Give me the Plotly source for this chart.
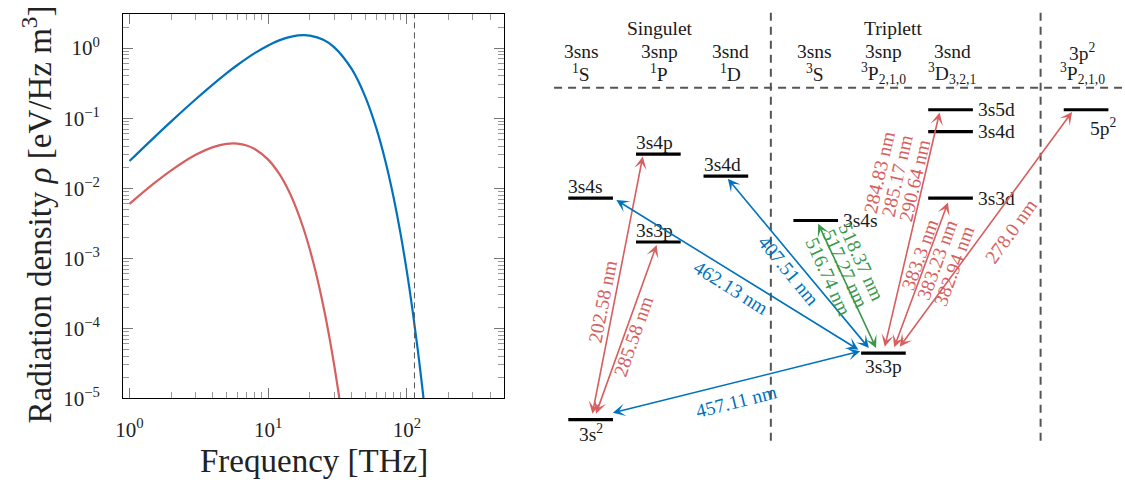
import math
import plotly.graph_objects as go

FONT = "Liberation Serif"
BLUE = "#0072bd"
RED = "#d65f5f"
GREEN = "#3a984a"
GREY = "#555555"
W, H = 1125, 494

# ---------------- spectral radiation density ----------------
freq_warm = [1, 1.5, 2, 3, 4, 5, 6, 8, 10, 12, 15, 18, 20, 25, 30, 40, 50, 60,
             70, 80, 90, 100, 110, 120, 130, 135]
rho_warm = [0.0244, 0.0528, 0.0901, 0.186, 0.304, 0.436, 0.574, 0.848, 1.093,
            1.289, 1.474, 1.531, 1.509, 1.314, 1.026, 0.504, 0.205, 0.0738,
            0.0245, 0.00763, 0.00227, 0.000649, 0.000180, 0.0000488,
            0.0000130, 0.0000066]

freq_cold = [1, 1.5, 2, 3, 4, 5, 6, 7, 8, 10, 12, 14, 16, 18, 20, 22, 24, 26,
             28, 30, 32, 34]
rho_cold = [0.00598, 0.0117, 0.0180, 0.0300, 0.0386, 0.0429, 0.0433, 0.0408,
            0.0363, 0.0256, 0.0161, 0.00933, 0.00508, 0.00264, 0.00132,
            0.000644, 0.000305, 0.000142, 0.0000646, 0.0000290, 0.0000129,
            0.0000057]

marker_freq = [113.5]

x_tick_vals = [1, 10, 100]
x_tick_text = ["10<sup>0</sup>", "10<sup>1</sup>", "10<sup>2</sup>"]
y_tick_vals = [1e-5, 1e-4, 1e-3, 1e-2, 1e-1, 1]
y_tick_text = ["10<sup>\u22125</sup>", "10<sup>\u22124</sup>", "10<sup>\u22123</sup>",
               "10<sup>\u22122</sup>", "10<sup>\u22121</sup>", "10<sup>0</sup>"]

# ---------------- term scheme ----------------
group_names = ["Singulet", "Triplett"]
column_top = ["3sns", "3snp", "3snd", "3sns", "3snp", "3snd", "3p<sup>2</sup>"]
column_term = ["<sup>1</sup>S", "<sup>1</sup>P", "<sup>1</sup>D", "<sup>3</sup>S",
               "<sup>3</sup>P<sub>2,1,0</sub>", "<sup>3</sup>D<sub>3,2,1</sub>",
               "<sup>3</sup>P<sub>2,1,0</sub>"]

level_keys = ["3s2", "3s4s_1", "3s3p_1", "3s4p_1", "3s4d_1", "3s4s_3", "3s3p_3",
              "3s3d_3", "3s4d_3", "3s5d_3", "5p2"]
level_labels = ["3s<sup>2</sup>", "3s4s", "3s3p", "3s4p", "3s4d", "3s4s", "3s3p",
                "3s3d", "3s4d", "3s5d", "5p<sup>2</sup>"]
level_column = [0, 0, 1, 1, 2, 3, 4, 5, 5, 5, 6]
level_depth = [430, 203, 248, 158, 180.5, 226, 362, 203, 135, 112.5, 112.5]

trans_lower = ["3s2", "3s2", "3s2", "3s3p_3", "3s3p_3", "3s3p_3", "3s3p_3",
               "3s3p_3", "3s3p_3"]
trans_upper = ["3s4p_1", "3s3p_1", "3s3p_3", "3s4s_1", "3s4d_1", "3s4s_3",
               "3s5d_3", "3s3d_3", "5p2"]
trans_labels = [["202.58 nm"], ["285.58 nm"], ["457.11 nm"], ["462.13 nm"],
                ["407.51 nm"], ["518.37 nm", "517.27 nm", "516.74 nm"],
                ["284.83 nm", "285.17 nm", "290.64 nm"],
                ["383.3 nm", "383.23 nm", "382.94 nm"], ["278.0 nm"]]
trans_color = [RED, RED, BLUE, BLUE, BLUE, GREEN, RED, RED, RED]

# drawing layout of the scheme (diagram units = pixels)
column_x = [586.8, 655, 723, 813.5, 881.7, 949.3, 1085.8]
header_x = [577.5, 656, 728, 812.5, 881.7, 951, 1082]
group_x = [657, 891]
label_side = ["below", "above", "above", "above", "above", "right", "below",
              "right", "right", "right", "belowright"]
arrow_x_lo = [588.3, 591.7, 607.7, 858.0, 868.3, 875.0, 882.7, 892.0, 897.0]
arrow_x_up = [639.3, 653.3, 858.3, 612.7, 725.0, 816.0, 938.3, 946.7, 1071.7]
arrow_gap_lo = [-4.5, -4.5, -6.5, -2.7, -3.7, -3.7, -5.0, -4.5, -5.0]
arrow_gap_up = [2.5, 3.0, -2.0, 2.0, 2.8, 3.3, 2.7, 4.5, 2.2]
label_center = [(599, 309), (630, 345), (734, 412), (727.7, 295), (786, 277),
                (842.8, 275.5), (895.5, 181), (935.7, 267), (1010, 237)]
LINE_GAP = 18.3
HALF_LEVEL = 22.5
TXT_SIZE = 19.5

fig = go.Figure()

fig.add_trace(go.Scatter(x=freq_warm, y=rho_warm, mode="lines", line_shape="spline",
                         line=dict(color=BLUE, width=2.2), xaxis="x", yaxis="y",
                         hoverinfo="skip", showlegend=False))
fig.add_trace(go.Scatter(x=freq_cold, y=rho_cold, mode="lines", line_shape="spline",
                         line=dict(color=RED, width=2.2), xaxis="x", yaxis="y",
                         hoverinfo="skip", showlegend=False))

for f in marker_freq:
    fig.add_shape(type="line", xref="x", yref="y domain", x0=f, x1=f, y0=0, y1=1,
                  line=dict(color=GREY, width=1, dash="6px,4px"))

# energy levels
lx, ly = [], []
for col, d in zip(level_column, level_depth):
    cx = column_x[col]
    lx += [cx - HALF_LEVEL, cx + HALF_LEVEL, None]
    ly += [d, d, None]
fig.add_trace(go.Scatter(x=lx, y=ly, mode="lines", line=dict(color="black", width=3.2),
                         xaxis="x2", yaxis="y2", hoverinfo="skip", showlegend=False))

annotations = []
txt = dict(family=FONT, size=TXT_SIZE, color="#1a1a1a")

for key, lab, col, d, side in zip(level_keys, level_labels, level_column,
                                  level_depth, label_side):
    cx = column_x[col]
    if side == "above":
        a = dict(x=cx - HALF_LEVEL - 2, y=d - 11.5, xanchor="left", yanchor="middle")
    elif side == "below":
        a = dict(x=cx, y=d + 14, xanchor="center", yanchor="middle")
    elif side == "right":
        a = dict(x=cx + HALF_LEVEL + 3, y=d, xanchor="left", yanchor="middle")
    else:
        a = dict(x=cx + 2, y=d + 18, xanchor="left", yanchor="middle")
    annotations.append(dict(text=lab, xref="x2", yref="y2", showarrow=False,
                            font=txt, **a))

depth_of = dict(zip(level_keys, level_depth))
for i in range(len(trans_lower)):
    xl, yl = arrow_x_lo[i], depth_of[trans_lower[i]] + arrow_gap_lo[i]
    xu, yu = arrow_x_up[i], depth_of[trans_upper[i]] + arrow_gap_up[i]
    color = trans_color[i]
    annotations.append(dict(x=xu, y=yu, ax=xl, ay=yl, xref="x2", yref="y2",
                            axref="x2", ayref="y2", text="", showarrow=True,
                            arrowhead=3, startarrowhead=3, arrowside="end+start",
                            arrowsize=1.3, startarrowsize=1.3, arrowwidth=1.6,
                            arrowcolor=color, standoff=0, startstandoff=0))
    ang = math.degrees(math.atan2(yu - yl, xu - xl))
    if ang > 90:
        ang -= 180
    elif ang < -90:
        ang += 180
    r = math.radians(ang)
    down = (-math.sin(r), math.cos(r))
    lines = trans_labels[i]
    n = len(lines)
    cx, cy = label_center[i]
    for k, line in enumerate(lines):
        off = (k - (n - 1) / 2) * LINE_GAP
        annotations.append(dict(text=line, x=cx + off * down[0], y=cy + off * down[1],
                                xref="x2", yref="y2", showarrow=False, textangle=ang,
                                xanchor="center", yanchor="middle",
                                font=dict(family=FONT, size=TXT_SIZE, color=color)))

# column headers
for gx, g in zip(group_x, group_names):
    annotations.append(dict(text=g, x=gx, y=29, xref="x2", yref="y2", showarrow=False,
                            font=txt, xanchor="center", yanchor="middle"))
for hx, top, term in zip(header_x, column_top, column_term):
    annotations.append(dict(text=top, x=hx, y=53, xref="x2", yref="y2",
                            showarrow=False, font=txt, xanchor="center",
                            yanchor="middle"))
    annotations.append(dict(text=term, x=hx, y=75, xref="x2", yref="y2",
                            showarrow=False, font=txt, xanchor="center",
                            yanchor="middle"))

# separators of the scheme
dash = dict(color=GREY, width=2, dash="8px,6px")
fig.add_shape(type="line", xref="x2", yref="y2", x0=550, x1=1122, y0=90, y1=90, line=dash)
for vx in (768.3, 1040):
    fig.add_shape(type="line", xref="x2", yref="y2", x0=vx, x1=vx, y0=13, y1=454,
                  line=dash)

# axis titles of the density plot
annotations.append(dict(text="Frequency [THz]", x=307.7 / W, y=1 - 472 / H,
                        xref="paper", yref="paper", showarrow=False,
                        font=dict(family=FONT, size=33, color="#222"),
                        xanchor="center", yanchor="middle"))
annotations.append(dict(text="Radiation density <i>\u03c1</i> [eV/Hz m<sup>3</sup>]",
                        x=29 / W, y=1 - 220 / H, xref="paper", yref="paper",
                        showarrow=False, textangle=-90,
                        font=dict(family=FONT, size=33, color="#222"),
                        xanchor="center", yanchor="middle"))

x_minor = [m * 10 ** e for e in range(0, 3) for m in range(2, 10) if m * 10 ** e <= 500]
y_minor = [m * 10.0 ** e for e in range(-5, 1) for m in range(2, 10) if m * 10.0 ** e <= 3]

tickfont = dict(family=FONT, size=21, color="#222")
fig.update_layout(
    width=W, height=H, margin=dict(l=0, r=0, t=0, b=0),
    paper_bgcolor="white", plot_bgcolor="white", showlegend=False,
    xaxis=dict(type="log", domain=[116 / W, 499.3 / W],
               range=[math.log10(0.9), math.log10(500)],
               tickmode="array", tickvals=x_tick_vals, ticktext=x_tick_text,
               ticks="inside", ticklen=10, tickwidth=1, tickcolor="#777",
               mirror="allticks", showline=True, linecolor="black", linewidth=1.2,
               showgrid=False, zeroline=False, tickfont=tickfont,
               ticklabelstandoff=12,
               minor=dict(tickmode="array", tickvals=x_minor, ticks="inside",
                          ticklen=6, tickwidth=1, tickcolor="#999", showgrid=False)),
    yaxis=dict(type="log", domain=[1 - 408.3 / H, 1 - 14.3 / H],
               range=[-5, 0.4875],
               tickmode="array", tickvals=y_tick_vals, ticktext=y_tick_text,
               ticks="inside", ticklen=10, tickwidth=1, tickcolor="#777",
               mirror="allticks", showline=True, linecolor="black", linewidth=1.2,
               showgrid=False, zeroline=False, tickfont=tickfont,
               ticklabelstandoff=18,
               minor=dict(tickmode="array", tickvals=y_minor, ticks="inside",
                          ticklen=6, tickwidth=1, tickcolor="#999", showgrid=False)),
    xaxis2=dict(domain=[540 / W, 1], range=[540, 1125], visible=False, anchor="y2"),
    yaxis2=dict(domain=[0, 1], range=[494, 0], visible=False, anchor="x2"),
    annotations=annotations,
)

fig.write_html("out.html")
